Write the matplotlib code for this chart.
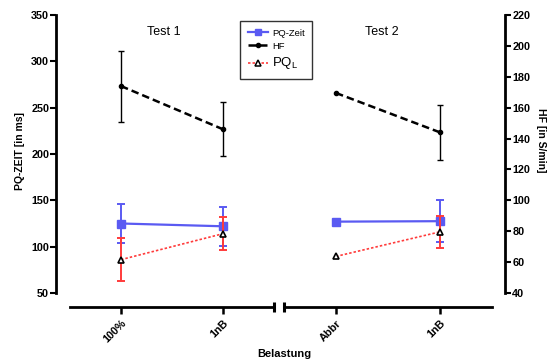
import numpy as np
import matplotlib
matplotlib.use("Agg")
import matplotlib.pyplot as plt

plt.rcParams['font.family'] = ['Liberation Sans', 'DejaVu Sans']

# categories per test block
test1_labels = ["100%", "1nB"]
test2_labels = ["Abbr", "1nB"]

# PQ-Zeit [ms], mean and SD (no SD at Abbr)
pq_t1 = [125, 122]
pq_t1_sd = [21.5, 21]
pq_t2 = [127, 127.5]
pq_t2_sd = [0, 23]

# PQ_L [ms]
pql_t1 = [86, 114]
pql_t1_sd = [23, 17.5]
pql_t2 = [89.5, 116]
pql_t2_sd = [0, 17.5]

# HF [S/min]
hf_t1 = [174, 146]
hf_t1_sd = [23, 17.5]
hf_t2 = [169.5, 144]
hf_t2_sd = [0, 18]

BLUE = '#5a5af2'
RED = '#ff3b3b'
W, H = 555, 363

fig = plt.figure(figsize=(W / 100, H / 100), dpi=100)
axL = fig.add_axes([70 / W, 70 / H, 204 / W, 278 / H])
axR = fig.add_axes([284 / W, 70 / H, 208 / W, 278 / H])
axL2 = axL.twinx()
axR2 = axR.twinx()


def draw_block(ax, ax2, pq, pq_sd, pql, pql_sd, hf, hf_sd, labels):
    x = np.arange(len(labels))
    pq_err = np.array(pq_sd, dtype=float)
    pql_err = np.array(pql_sd, dtype=float)
    hf_err = np.array(hf_sd, dtype=float)
    pq_mask = pq_err > 0
    pql_mask = pql_err > 0
    hf_mask = hf_err > 0

    ax.plot(x, pq, color=BLUE, lw=1.6, marker='s', ms=6, mec=BLUE, zorder=3)
    ax.errorbar(x[pq_mask], np.array(pq)[pq_mask], yerr=pq_err[pq_mask], fmt='none',
                ecolor=BLUE, elinewidth=1.4, capsize=3, capthick=1.4, zorder=3)
    ax.errorbar(x[pql_mask], np.array(pql)[pql_mask], yerr=pql_err[pql_mask], fmt='none',
                ecolor=RED, elinewidth=1.4, capsize=3, capthick=1.4, zorder=4)
    ax.plot(x, pql, color=RED, lw=1.2, ls=(0, (1.5, 1.2)), zorder=4)
    ax.plot(x, pql, ls='none', marker='^', ms=4.5, mfc='white', mec='black', mew=1.2, zorder=5)

    ax2.plot(x, hf, color='black', lw=1.8, dashes=(3, 1.6), marker='o', ms=3, zorder=3)
    ax2.errorbar(x[hf_mask], np.array(hf)[hf_mask], yerr=hf_err[hf_mask], fmt='none',
                 ecolor='black', elinewidth=1.0, capsize=2, capthick=1.0, zorder=3)

    ax.set_xlim(-0.5, 1.5)
    ax.set_ylim(50, 350)
    ax2.set_ylim(40, 220)
    ax.set_xticks(x, labels)
    ax.tick_params(axis='x', direction='out', length=5, width=1.8, pad=3)
    for a in (ax, ax2):
        for s in a.spines.values():
            s.set_visible(False)
        a.patch.set_visible(False)
    ax.spines['bottom'].set_visible(True)
    ax.spines['bottom'].set_position(('outward', 10))
    ax.spines['bottom'].set_linewidth(2.0)
    ax.set_yticks([])
    ax2.set_yticks([])


draw_block(axL, axL2, pq_t1, pq_t1_sd, pql_t1, pql_t1_sd, hf_t1, hf_t1_sd, test1_labels)
draw_block(axR, axR2, pq_t2, pq_t2_sd, pql_t2, pql_t2_sd, hf_t2, hf_t2_sd, test2_labels)

# left axis: PQ-Zeit
axL.spines['left'].set_visible(True)
axL.spines['left'].set_position(('outward', 10))
axL.spines['left'].set_linewidth(2.0)
axL.set_yticks(np.arange(50, 351, 50))
axL.tick_params(axis='y', direction='out', length=4, width=1.5, labelsize=7.8, pad=1)

# right axis: HF
axR2.spines['right'].set_visible(True)
axR2.spines['right'].set_position(('outward', 9.5))
axR2.spines['right'].set_linewidth(2.0)
axR2.set_yticks(np.arange(40, 221, 20))
axR2.tick_params(axis='y', direction='out', length=4, width=1.5, labelsize=7.8, pad=1)

# axis break marks
ybrk = -14 / 278
axL.plot([1.0], [ybrk], marker='|', ms=7, mew=2.2, color='black',
         transform=axL.transAxes, clip_on=False)
axR.plot([0.0], [ybrk], marker='|', ms=7, mew=2.2, color='black',
         transform=axR.transAxes, clip_on=False)

axL.text(0.46, 0.939, "Test 1", transform=axL.transAxes, ha='center', va='center', fontsize=9)
axR.text(0.47, 0.939, "Test 2", transform=axR.transAxes, ha='center', va='center', fontsize=9)

fig.text(20 / W, 1 - 151 / H, "PQ-ZEIT [in ms]", rotation=90, ha='center', va='center',
         fontsize=7.5, fontweight='bold')
fig.text(541 / W, 1 - 140 / H, "HF [in S/min]", rotation=270, ha='center', va='center',
         fontsize=7.5, fontweight='bold')
fig.text(284 / W, 1 - 354 / H, "Belastung", ha='center', va='center',
         fontsize=8, fontweight='bold')

# legend
h_pq, = axL.plot([], [], color=BLUE, lw=1.6, marker='s', ms=5)
h_hf, = axL.plot([], [], color='black', lw=1.8, dashes=(3, 1.6), marker='o', ms=3)
h_pql, = axL.plot([], [], color=RED, lw=1.2, ls=(0, (1.5, 1.2)), marker='^', ms=4,
                  mfc='white', mec='black', mew=1.1)
leg = fig.legend([h_pq, h_hf, h_pql], ["PQ-Zeit", "HF", r"PQ$_\mathregular{L}$"],
                 loc='upper left', bbox_to_anchor=(240 / W, 1 - 21 / H),
                 fontsize=6.8, frameon=True, fancybox=False, edgecolor='black',
                 handlelength=2.2, handletextpad=0.4, borderpad=0.8, labelspacing=0.45,
                 borderaxespad=0)
leg.get_frame().set_linewidth(1.0)
leg.get_texts()[2].set_fontsize(9.5)

# tick label styling, done last so shared axes keep it
for ax in (axL, axR):
    for t in ax.get_xticklabels():
        t.set_rotation(45)
        t.set_ha('right')
        t.set_rotation_mode('anchor')
        t.set_fontsize(7.8)
        t.set_fontweight('bold')
for t in axL.get_yticklabels() + axR2.get_yticklabels():
    t.set_fontweight('bold')

fig.savefig("out.png", dpi=100)
